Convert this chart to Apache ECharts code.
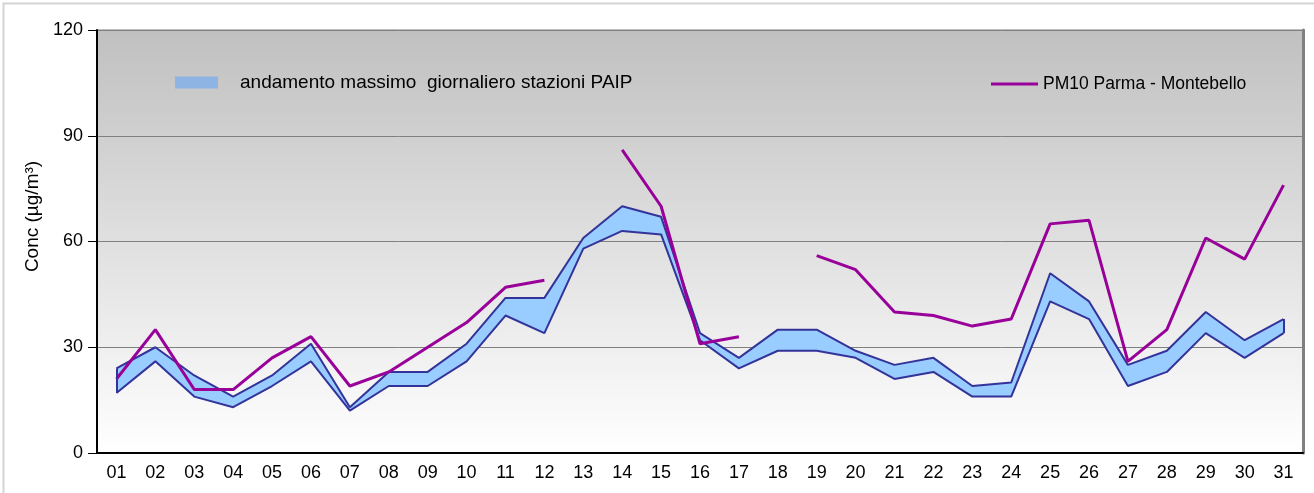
<!DOCTYPE html>
<html>
<head>
<meta charset="utf-8">
<script src="https://cdn.jsdelivr.net/npm/echarts@6/dist/echarts.min.js"></script>
<style>html,body{margin:0;padding:0;background:#fff}#c{width:1314px;height:493px}</style>
</head>
<body>
<div id="c"></div>
<script>
const days = ['01','02','03','04','05','06','07','08','09','10','11','12','13','14','15','16','17','18','19','20','21','22','23','24','25','26','27','28','29','30','31'];
const bandMax = [24,30,22,16,22,31,13,23,23,31,44,44,61,70,67,34,27,35,35,29,25,27,19,20,51,43,25,29,40,32,38];
const bandMin = [17,26,16,13,19,26,12,19,19,26,39,34,58,63,62,32,24,29,29,27,21,23,16,16,43,38,19,23,34,27,34];
const pm10 = [21,35,18,18,27,33,19,23,30,37,47,49,null,86,70,31,33,null,56,52,40,39,36,38,65,66,26,35,61,55,76];
const yTicks = [0,30,60,90,120];

const bandName = 'andamento massimo  giornaliero stazioni PAIP';
const pmName = 'PM10 Parma - Montebello';
const bandDiff = bandMax.map((v,i)=>v-bandMin[i]);
const last = days.length - 1;

const chart = echarts.init(document.getElementById('c'), null, {renderer:'canvas'});
const font = 'Liberation Sans, Arial, sans-serif';
chart.setOption({
  animation:false,
  backgroundColor:'#ffffff',
  textStyle:{fontFamily:font},
  graphic:[{type:'rect',shape:{x:3.5,y:3.5,width:1330,height:520},style:{fill:null,stroke:'#d4d4d4',lineWidth:2},silent:true,z:-10}],
  grid:{left:97,top:30,right:11,bottom:40,show:true,borderColor:'#808080',borderWidth:1,
    backgroundColor:{type:'linear',x:0,y:0,x2:0,y2:1,colorStops:[{offset:0,color:'#c0c0c0'},{offset:1,color:'#ffffff'}]}},
  legend:[
    {left:175,top:73,padding:0,itemWidth:43,itemHeight:12,icon:'rect',
     data:[{name:bandName,itemStyle:{color:'#8db4e2'}}],
     textStyle:{fontSize:19,color:'#000',fontFamily:font,padding:[0,0,0,17]}},
    {left:991,top:75,padding:0,itemWidth:47,itemHeight:3,icon:'rect',
     data:[{name:pmName,itemStyle:{color:'#990099'}}],
     textStyle:{fontSize:17.5,color:'#000',fontFamily:font}}
  ],
  xAxis:{type:'category',data:days,boundaryGap:true,
    axisLine:{lineStyle:{color:'#000',width:2}},axisTick:{show:false},
    axisLabel:{color:'#000',fontSize:18,margin:11,fontFamily:font}},
  yAxis:[{type:'value',min:0,max:120,interval:30,
    name:'Conc (µg/m³)',nameLocation:'middle',nameGap:43,nameRotate:90,
    nameTextStyle:{fontSize:19,color:'#000',fontFamily:font,padding:[0,0,0,50]},
    axisLine:{show:true,lineStyle:{color:'#000',width:2}},
    axisTick:{show:true,length:9,lineStyle:{color:'#000'}},
    axisLabel:{color:'#000',fontSize:18,margin:14,fontFamily:font},
    splitLine:{lineStyle:{color:'#808080',width:1}}},
    {type:'value',min:0,max:120,position:'right',axisLine:{show:true,lineStyle:{color:'#808080',width:3}},
     axisTick:{show:false},axisLabel:{show:false},splitLine:{show:false}}],
  series:[
    {name:'base',type:'line',stack:'band',data:bandMin,symbol:'none',lineStyle:{width:0,opacity:0},silent:true,z:1},
    {name:bandName,type:'line',stack:'band',data:bandDiff,symbol:'none',lineStyle:{width:0,opacity:0},
     areaStyle:{color:'#99ccff',opacity:1},itemStyle:{color:'#8db4e2'},silent:true,z:1},
    {name:'upper',type:'line',data:bandMax,symbol:'none',lineStyle:{color:'#333399',width:2},silent:true,z:2,
     markLine:{silent:true,symbol:'none',label:{show:false},lineStyle:{color:'#333399',width:2,type:'solid'},
       data:[[{coord:[days[0],bandMin[0]]},{coord:[days[0],bandMax[0]]}],
             [{coord:[days[last],bandMin[last]]},{coord:[days[last],bandMax[last]]}]]}},
    {name:'lower',type:'line',data:bandMin,symbol:'none',lineStyle:{color:'#333399',width:2},silent:true,z:2},
    {name:pmName,type:'line',data:pm10,symbol:'none',connectNulls:false,lineStyle:{color:'#990099',width:3},itemStyle:{color:'#990099'},z:3}
  ]
});
</script>
</body>
</html>
